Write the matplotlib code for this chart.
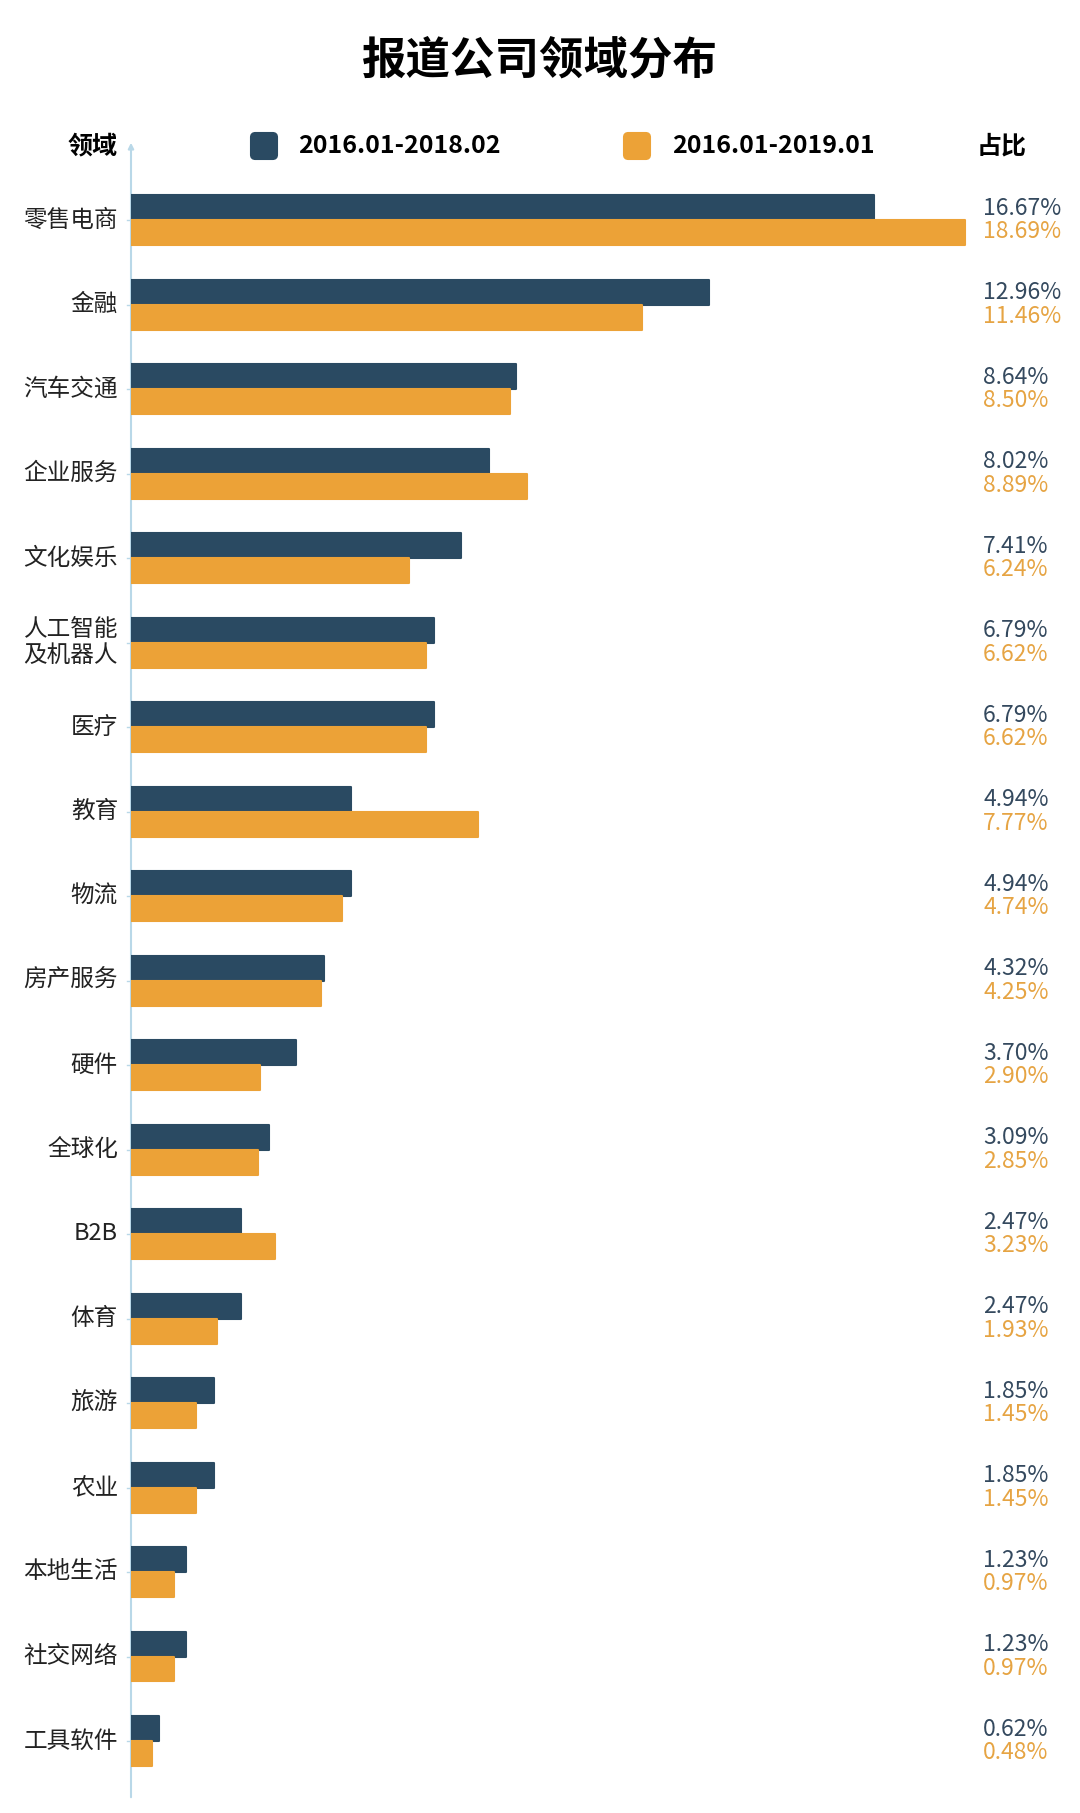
import matplotlib
matplotlib.use("Agg")
import matplotlib.pyplot as plt
from matplotlib.patches import FancyBboxPatch

plt.rcParams['font.family'] = ['Noto Sans CJK SC', 'DejaVu Sans']

# Data
categories = ['零售电商', '金融', '汽车交通', '企业服务', '文化娱乐', '人工智能\n及机器人', '医疗', '教育',
              '物流', '房产服务', '硬件', '全球化', 'B2B', '体育', '旅游', '农业', '本地生活', '社交网络', '工具软件']
share_2018 = [16.67, 12.96, 8.64, 8.02, 7.41, 6.79, 6.79, 4.94, 4.94, 4.32, 3.70, 3.09, 2.47, 2.47, 1.85, 1.85, 1.23, 1.23, 0.62]
share_2019 = [18.69, 11.46, 8.50, 8.89, 6.24, 6.62, 6.62, 7.77, 4.74, 4.25, 2.90, 2.85, 3.23, 1.93, 1.45, 1.45, 0.97, 0.97, 0.48]
series_labels = ['2016.01-2018.02', '2016.01-2019.01']

dark = '#2a4a62'
orange = '#eca237'
dark_txt = '#34495e'
orange_txt = '#e6a443'
axis_col = '#b9d8e8'

W, H = 1080, 1813
fig = plt.figure(figsize=(W / 100, H / 100), dpi=100)
fig.patch.set_facecolor('white')

# axes geometry (pixels)
x0_px = 131
px_per_pct = 44.6
y_top_px, y_bot_px = 140, 1800
first_c, step_px = 220, 84.5

ax = fig.add_axes([x0_px / W, 1 - y_bot_px / H, 1 - x0_px / W, (y_bot_px - y_top_px) / H])
ax.set_xlim(0, (W - x0_px) / px_per_pct)
ax.set_ylim((y_bot_px - first_c) / step_px, (y_top_px - first_c) / step_px)
ax.axis('off')

bh = 25 / step_px
ys = list(range(len(categories)))
ax.barh([y - bh / 2 for y in ys], share_2018, height=bh, color=dark, edgecolor=dark,
        linewidth=1.5, joinstyle='round', zorder=3)
ax.barh([y + bh / 2 for y in ys], share_2019, height=bh, color=orange, edgecolor=orange,
        linewidth=1.5, joinstyle='round', zorder=3)

x_lab = (983 - x0_px) / px_per_pct
for y, cat, a, b in zip(ys, categories, share_2018, share_2019):
    ax.text(x_lab, y - 0.14, f'{a:.2f}%', color=dark_txt, fontsize=16.5, va='center', ha='left')
    ax.text(x_lab, y + 0.14, f'{b:.2f}%', color=orange_txt, fontsize=16.5, va='center', ha='left')
    ax.text(-13 / px_per_pct, y, cat, fontsize=17, va='center', ha='right', color='#222222',
            linespacing=1.2, clip_on=False)
    ax.plot([-4 / px_per_pct, 0], [y, y], color=axis_col, lw=1, clip_on=False)

# vertical axis with arrow
ax.annotate('', xy=(0, ax.get_ylim()[1]), xytext=(0, ax.get_ylim()[0]),
            arrowprops=dict(arrowstyle='-|>', color=axis_col, lw=1.5, mutation_scale=8), zorder=2)

# title and header
fig.text(0.5, 1 - 60 / H, '报道公司领域分布', fontsize=32, fontweight='bold', ha='center', va='center')
hy = 1 - 146 / H
fig.text(118 / W, hy, '领域', fontsize=18, fontweight='bold', ha='right', va='center')
fig.text(977 / W, hy, '占比', fontsize=18, fontweight='bold', ha='left', va='center')
for xs, xt, col, lab in [(251, 298, dark, series_labels[0]), (624, 672, orange, series_labels[1])]:
    fig.patches.append(FancyBboxPatch((xs / W, 1 - 159 / H), 26 / W, 26 / H, transform=fig.transFigure,
                                      boxstyle='round,pad=0,rounding_size=0.004',
                                      mutation_aspect=W / H, facecolor=col, edgecolor=col, lw=1.5))
    fig.text(xt / W, hy, lab, fontsize=18, fontweight='bold', ha='left', va='center')

fig.savefig('out.png', dpi=100)
